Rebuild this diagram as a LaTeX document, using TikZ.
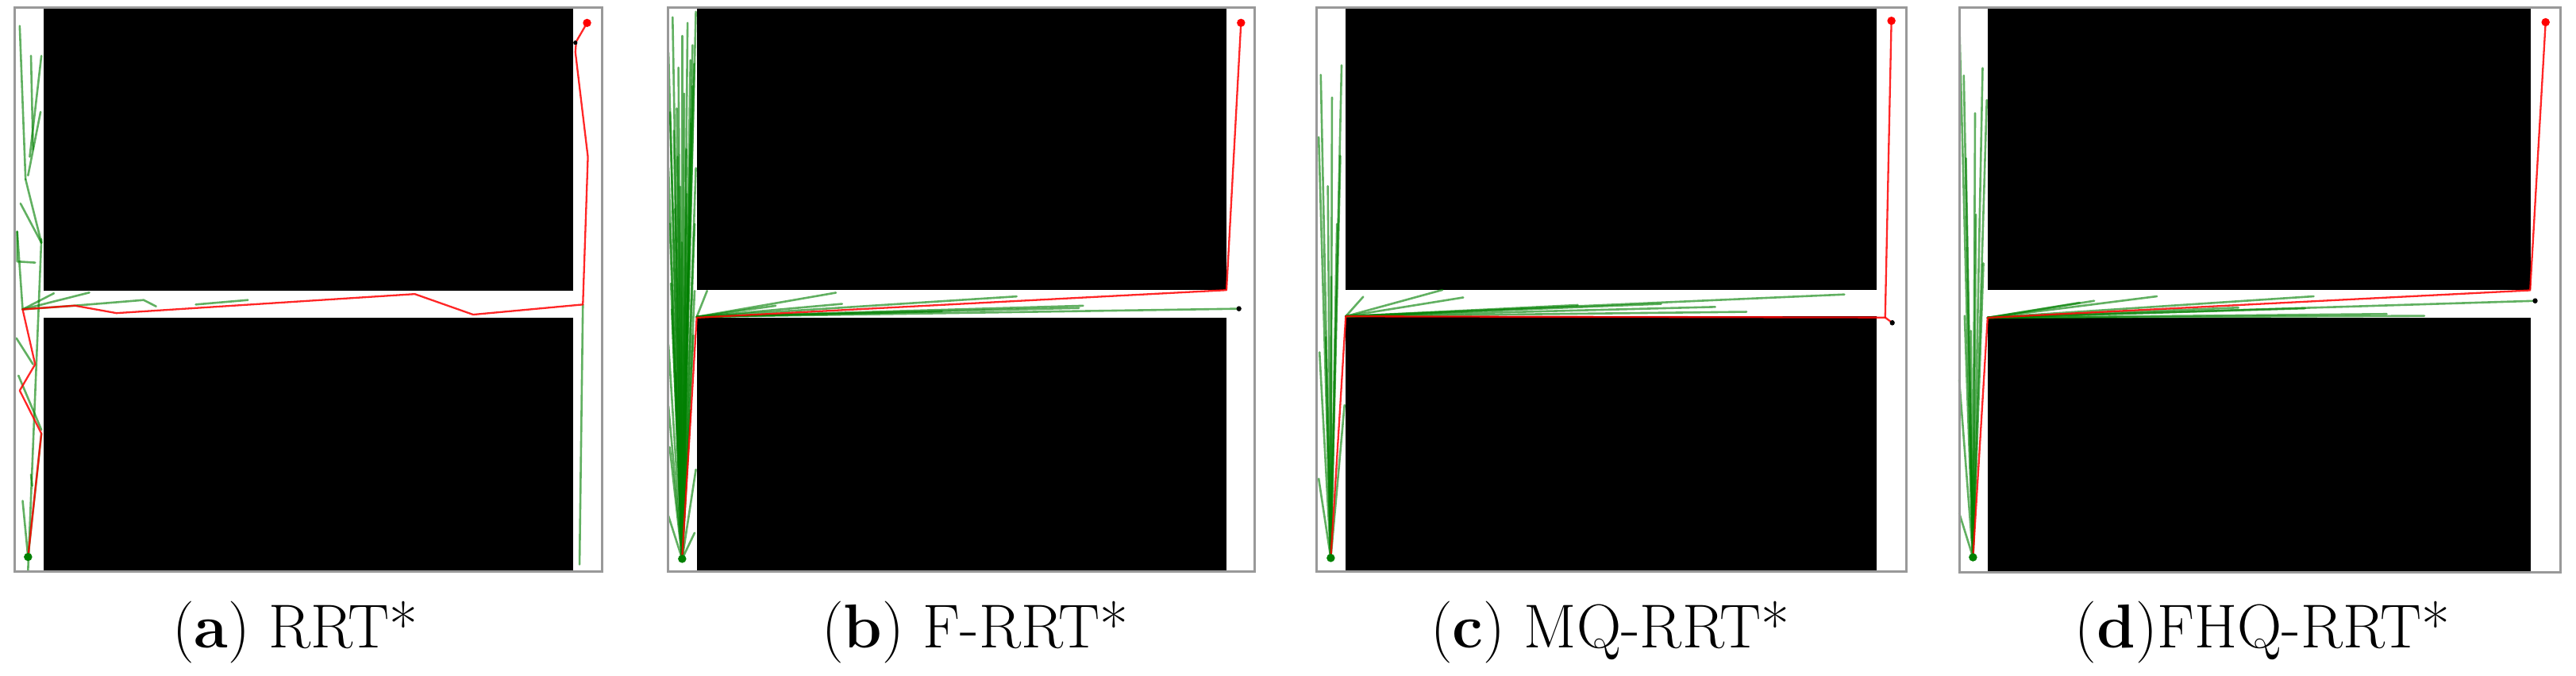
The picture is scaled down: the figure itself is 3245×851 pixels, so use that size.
\documentclass[tikz,border=0pt]{standalone}
\usepackage{tikz}
\definecolor{tg}{rgb}{0,0.5,0}
\definecolor{tr}{rgb}{1,0,0}
\tikzset{
  frm/.style={draw=black!40, line width=3pt},
  obs/.style={fill=black},
  gln/.style={draw=tg, line width=2.6pt, opacity=0.62, line cap=round, line join=round},
  rln/.style={draw=tr, line width=2.3pt, opacity=0.85, line cap=round, line join=round},
  startpt/.style={fill=tg},
  goalpt/.style={fill=tr},
  captxt/.style={anchor=base, inner sep=0pt, font=\fontsize{78}{90}\selectfont}
}
\begin{document}
\begin{tikzpicture}[x=1pt, y=-1pt]
\useasboundingbox (0,0) rectangle (3245,851);
\fill[white] (0,0) rectangle (3245,851);

% ---------------- panel a ----------------
\begin{scope}[shift={(18-35*0.5255,10-22*0.4708)}, x=0.5255pt, y=-0.4708pt]
\fill[obs] (105,25) rectangle (1375,778);
\fill[obs] (105,850) rectangle (1375,1530);
\draw[gln] (48,70)--(62,480);
\draw[gln] (75,150)--(80,400);
\draw[gln] (100,150)--(72,420);
\draw[gln] (98,300)--(68,470);
\draw[gln] (62,480)--(100,650);
\draw[gln] (50,545)--(100,650);
\draw[gln] (100,640)--(68,1525);
\draw[gln] (42,620)--(42,700)--(85,703);
\draw[gln] (42,620)--(55,828);
\draw[gln] (55,828)--(130,785);
\draw[gln] (55,828)--(215,783);
\draw[gln] (55,828)--(180,818)--(345,803)--(375,820);
\draw[gln] (470,815)--(595,803);
\draw[gln] (40,905)--(80,975);
\draw[gln] (45,1005)--(100,1150);
\draw[gln] (55,1340)--(68,1490);
\draw[gln] (75,1270)--(78,1300);
\draw[gln] (100,1160)--(68,1490);
\draw[gln] (1398,815)--(1390,1510);
\draw[rln] (68,1490)--(100,1160)--(48,1045)--(85,975)--(55,828)--(180,818)--(280,838)--(995,787)--(1135,842)--(1398,815)--(1410,420)--(1380,140)--(1382,112)--(1408,62);
\fill[startpt] (68,1490) circle[x radius=10, y radius=11];
\fill[goalpt] (1408,62) circle[x radius=10, y radius=11];
\fill[black] (1380,115) circle[x radius=5, y radius=6];
\draw[frm] (35,22) rectangle (1445,1530);
\end{scope}

% ---------------- panel b ----------------
\begin{scope}[shift={(841-40*0.5234,10-20*0.4686)}, x=0.5234pt, y=-0.4686pt]
\fill[obs] (110,22) rectangle (1385,778);
\fill[obs] (110,852) rectangle (1385,1535);
\foreach \p in {(52,45),(75,95),(95,160),(100,230),(108,30),(62,290),(42,140),(42,450),(45,600),(85,400),(105,600),(90,700),(105,780),(42,925),(42,1090),(60,1000),(95,1100),(42,1385),(105,1430),(108,1260),(45,1200),(70,500),(55,350),(100,120),(48,760),(80,250),(108,450),(66,180),(88,60),(58,560),(96,330),(74,650),(102,900),(50,830),(86,520),(64,420),(104,170),(46,300)}
  \draw[gln] (75,1500)--\p;
\foreach \p in {(135,780),(445,785),(880,795),(460,815),(1040,820),(1415,828),(1030,826),(700,835),(300,820)}
  \draw[gln] (110,850)--\p;
\draw[rln] (75,1495)--(110,852)--(1385,778)--(1420,60);
\fill[startpt] (75,1500) circle[x radius=10, y radius=11];
\fill[goalpt] (1420,60) circle[x radius=10, y radius=11];
\fill[black] (1415,828) circle[x radius=6, y radius=7];
\draw[frm] (40,20) rectangle (1452,1535);
\end{scope}

% ---------------- panel c ----------------
\begin{scope}[shift={(1658-72*0.5247,10-28*0.4752)}, x=0.5247pt, y=-0.4752pt]
\fill[obs] (143,30) rectangle (1418,775);
\fill[obs] (143,845) rectangle (1418,1522);
\foreach \p in {(83,205),(110,265),(133,180),(78,370),(122,600),(108,740),(95,900),(80,940),(140,1080),(78,1275),(100,500),(130,420)}
  \draw[gln] (107,1485)--\p;
\foreach \p in {(185,793),(375,775),(425,795),(1340,787),(1030,820),(1105,833),(700,815),(900,812)}
  \draw[gln] (143,845)--\p;
\draw[rln] (107,1485)--(143,845)--(1438,848)--(1453,62);
\draw[rln] (1438,848)--(1455,862);
\fill[startpt] (107,1485) circle[x radius=10, y radius=11];
\fill[goalpt] (1453,62) circle[x radius=10, y radius=11];
\fill[black] (1455,862) circle[x radius=6, y radius=7];
\draw[frm] (72,28) rectangle (1488,1522);
\end{scope}

% ---------------- panel d ----------------
\begin{scope}[shift={(2468-92*0.5265,10-20*0.4727)}, x=0.5265pt, y=-0.4727pt]
\fill[obs] (160,22) rectangle (1460,772);
\fill[obs] (160,845) rectangle (1460,1522);
\foreach \p in {(93,85),(103,200),(148,180),(158,265),(132,570),(108,420),(105,840),(92,1010),(92,1365),(120,880),(150,700),(130,300)}
  \draw[gln] (125,1483)--\p;
\foreach \p in {(415,800),(565,788),(940,788),(1470,800),(920,820),(1115,835),(1205,840),(760,818),(380,805)}
  \draw[gln] (160,845)--\p;
\draw[rln] (125,1483)--(160,845)--(1458,772)--(1495,58);
\fill[startpt] (125,1483) circle[x radius=10, y radius=11];
\fill[goalpt] (1495,58) circle[x radius=10, y radius=11];
\fill[black] (1470,800) circle[x radius=6, y radius=7];
\draw[frm] (92,20) rectangle (1530,1522);
\end{scope}

% ---------------- captions ----------------
\node[captxt] (capa) at (372,815) {(\textbf{a}) RRT*};
\node[captxt] (capb) at (1228,815) {(\textbf{b}) F-RRT*};
\node[captxt] (capc) at (2028,815) {(\textbf{c}) MQ-RRT*};
\node[captxt] (capd) at (2850,815) {(\textbf{d})FHQ-RRT*};
\end{tikzpicture}
\end{document}
